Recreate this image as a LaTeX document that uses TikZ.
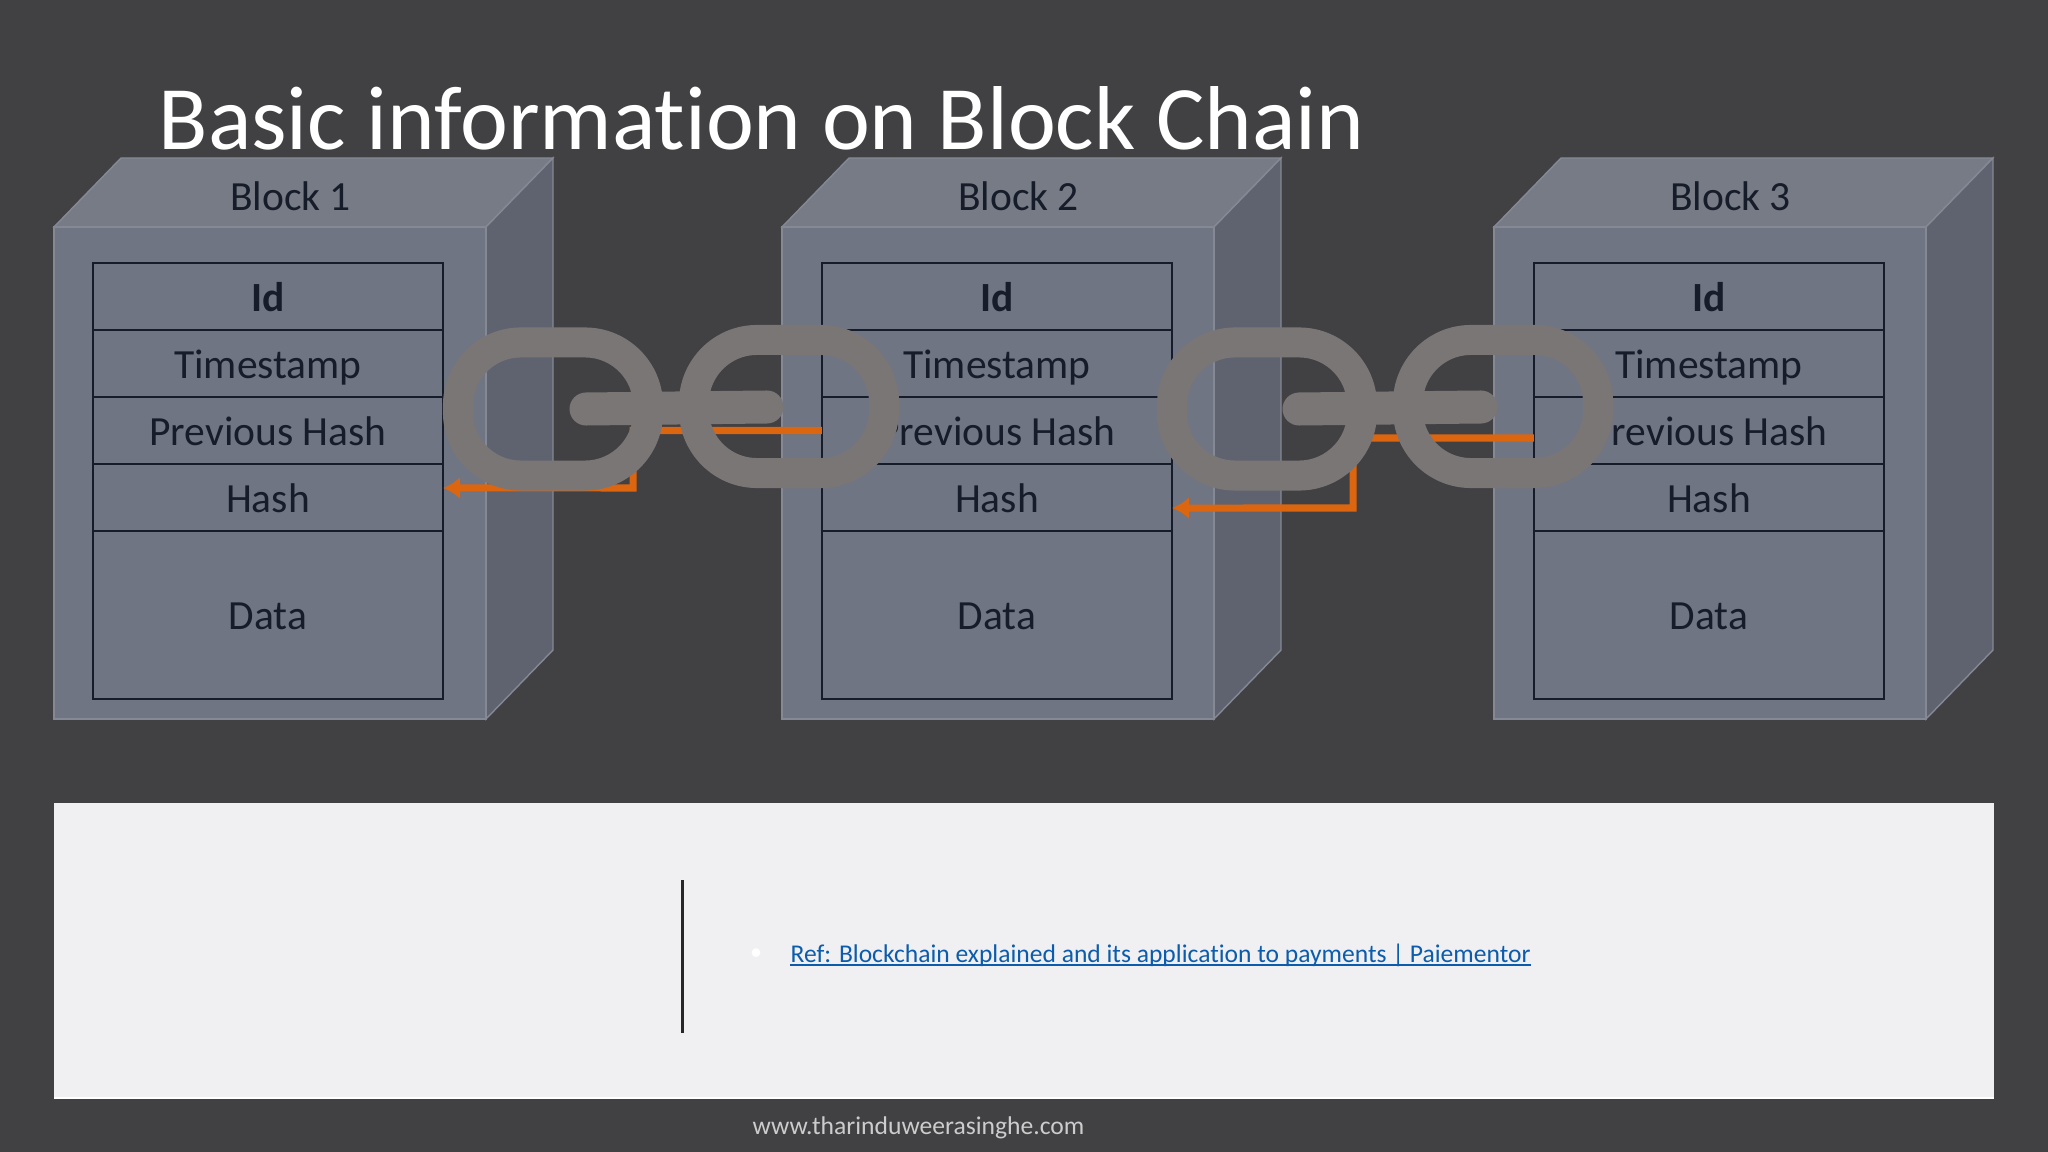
\documentclass[tikz,border=0pt]{standalone}
\usepackage{fontspec}
\setmainfont[Ligatures=NoCommon]{Carlito}
\usetikzlibrary{arrows.meta}
\definecolor{slide}{HTML}{414042}
\definecolor{frontface}{HTML}{6F7582}
\definecolor{topface}{HTML}{777B86}
\definecolor{sideface}{HTML}{5F636F}
\definecolor{faceedge}{HTML}{858995}
\definecolor{rowline}{HTML}{161C2A}
\definecolor{chaingrey}{HTML}{7A7676}
\definecolor{hashline}{HTML}{DC650F}
\definecolor{panel}{HTML}{F0EFF2}
\definecolor{reflink}{HTML}{0B5CAD}
\tikzstyle{front face} = [fill=frontface,draw=faceedge,line width=0.4pt]
\tikzstyle{top face} = [fill=topface,draw=faceedge,line width=0.4pt]
\tikzstyle{side face} = [fill=sideface,draw=faceedge,line width=0.4pt]
\tikzstyle{row} = [draw=rowline,line width=0.7pt,minimum width=3.5cm,minimum height=0.67cm,inner sep=0pt,outer sep=0pt,text=rowline,text height=0.30cm,text depth=0.01cm,font=\fontsize{11.8}{13}\selectfont]
\tikzstyle{data row} = [row,minimum height=1.68cm]
\tikzstyle{block label} = [text=rowline,font=\fontsize{11.8}{13}\selectfont]
\tikzstyle{chain link} = [draw=chaingrey,line width=0.3cm,minimum width=1.9cm,minimum height=1.33cm,rounded corners=0.63cm,inner sep=0pt]
\tikzstyle{chain bar} = [draw=chaingrey,line width=0.33cm,line cap=round]
\tikzstyle{hash edge} = [draw=hashline,line width=0.07cm,-{Latex[length=0.17cm,width=0.22cm]}]
\begin{document}
\begin{tikzpicture}[x=0.01cm,y=-0.01cm]
    \useasboundingbox (0,0) rectangle (2048,1152);
    \fill[slide] (0,0) rectangle (2048,1152);

    \node[anchor=base west,inner sep=0pt,text=white,font=\fontsize{25.8}{30}\selectfont] (title) at (158,150) {Basic information on Block Chain};

    \foreach \front/\table/\name/\num in {54/93/a/1, 782/822/b/2, 1494/1534/c/3} {
        \path[top face] (\front,227) -- (\front+67,158) -- (\front+499,158) -- (\front+432,227) -- cycle;
        \path[side face] (\front+432,227) -- (\front+499,158) -- (\front+499,650) -- (\front+432,719) -- cycle;
        \path[front face] (\front,227) rectangle (\front+432,719);
        \node[block label] (label\name) at (\front+236.5,196) {Block \num};
        \node[row] (id\name) at (\table+175,296.5) {\textbf{Id}};
        \node[row] (time\name) at (\table+175,363.5) {Timestamp};
        \node[row] (prev\name) at (\table+175,430.5) {Previous Hash};
        \node[row] (hash\name) at (\table+175,497.5) {Hash};
        \node[data row] (data\name) at (\table+175,615) {Data};
    }

    \path[hash edge] (prevb.west) -| (633,488) -- ([yshift=0.095cm]hasha.east);
    \path[hash edge] ([yshift=-0.075cm]prevc.west) -| (1353,508) -- ([yshift=-0.105cm]hashb.east);

    \foreach \x/\y/\name in {553/409/lka, 789/406.5/lkb, 1267/409/lkc, 1503/406.5/lkd}
        \node[chain link] (\name) at (\x,\y) {};
    \path[chain bar] (lka.center) ++(33,0) -- +(181,-2);
    \path[chain bar] (lkc.center) ++(32,0) -- +(182,-2);

    \fill[panel] (54,803) rectangle (1994,1098);
    \draw[white,line width=0.4pt] (54,1098) -- (1994,1098);
    \coordinate (ruletop) at (682,880);
    \coordinate (rulebot) at (682,1033);
    \draw[black!85,line width=0.85pt] (ruletop) -- (rulebot);
    \node[white,font=\fontsize{4}{5}\selectfont,inner sep=0pt] (dot) at (756,953) {$\bullet$};
    \node[anchor=base west,inner sep=0pt,text=reflink,font=\fontsize{7.27}{9}\selectfont] (ref) at (790,962) {Ref: Blockchain explained and its application to payments | Paiementor};
    \draw[reflink,line width=0.45pt] ([yshift=-0.03cm]ref.base west) -- ([yshift=-0.03cm]ref.base east);
    \node[anchor=base west,inner sep=0pt,text=black!20,font=\fontsize{7.28}{10}\selectfont] (site) at (752,1134) {www.tharinduweerasinghe.com};
\end{tikzpicture}
\end{document}
